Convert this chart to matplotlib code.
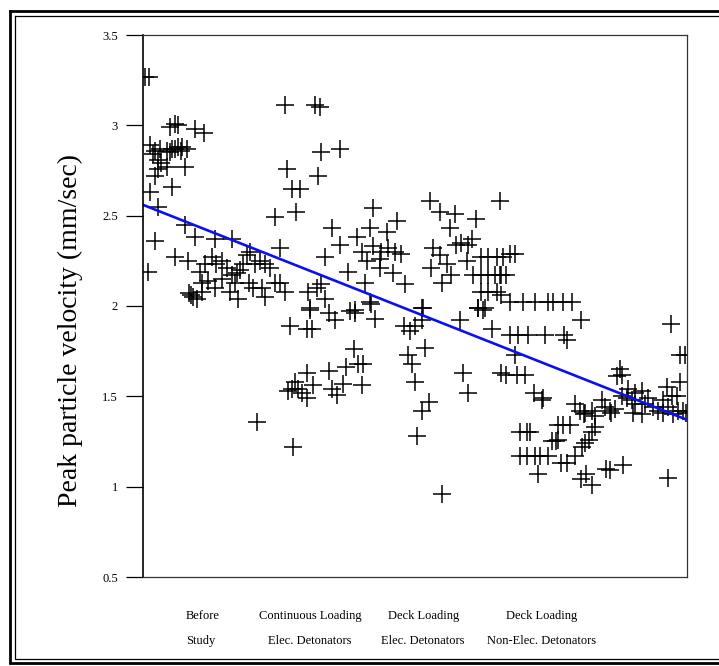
import matplotlib.pyplot as plt
from matplotlib.lines import Line2D
from matplotlib.transforms import blended_transform_factory

plt.rcParams['font.family'] = ['Liberation Serif', 'DejaVu Serif']

# значения (порядковый номер взрыва, PPV мм/с)
blast_x = [
    0.4, 1.1, 5.0, 5.8, 6.4, 9.6, 11.3, 1.3, 2.2, 3.1, 4.4, 5.3, 5.9, 6.5, 7.1, 8.0,
    1.9, 2.8, 3.4, 4.4, 2.8, 7.7, 2.2, 5.3, 1.3, 2.8, 7.7, 2.2, 9.6, 13.2, 16.3, 5.9,
    8.3, 1.0, 25.2, 10.5, 11.4, 12.6, 13.5, 14.5, 15.4, 16.3, 17.2, 17.8, 18.4, 19.1,
    19.7, 20.6, 21.5, 22.4, 23.3, 24.3, 25.2, 26.1, 21.8, 22.4, 17.5, 16.0, 13.2, 10.8,
    8.9, 9.9, 10.8, 12.0, 14.5, 16.9, 19.4, 20.3, 8.5, 9.2, 4.9, 6.9,
    26.1, 31.6, 32.5, 32.8, 32.1, 26.4, 27.3, 28.9, 28.1, 24.3, 30.4, 31.9, 30.7,
    20.9, 27.6, 27.0, 30.1, 31.0, 30.7, 30.1, 27.9, 26.7, 28.5, 29.2, 30.1, 31.3, 27.3,
    36.2, 34.7, 39.3, 36.2, 33.5, 37.7, 32.8, 33.5, 39.0, 34.1, 35.3, 38.1, 39.0, 42.0,
    42.6, 38.7, 37.4, 39.6, 40.5, 34.1, 36.8, 40.2, 34.7, 35.6,
    52.8, 54.6, 57.4, 65.6, 42.3, 41.7, 46.6, 44.8, 56.4, 61.3, 40.2, 42.3, 43.8, 45.1,
    46.3, 47.5, 43.6, 41.1, 43.6, 46.0, 40.8, 48.2, 41.7, 51.2, 53.4, 54.6, 55.8, 53.0,
    56.7, 54.9, 57.6, 58.5, 59.8, 60.4, 59.5, 62.2, 63.5, 65.0, 66.2, 60.7, 62.2, 63.5,
    64.7, 65.9, 62.2, 63.5, 65.0, 61.6, 62.9, 47.9, 49.1, 50.0, 51.2, 51.5, 58.3, 61.6,
    62.5, 64.1, 51.8, 48.8, 49.4, 50.0, 52.5, 51.2, 50.3, 54.9, 58.9, 59.8, 65.9,
    67.5, 68.4, 65.6, 66.8, 65.9, 67.5, 69.9, 72.1, 74.5, 75.4, 77.2, 78.8, 80.6, 97.1,
    69.0, 70.8, 73.9, 77.3, 77.9, 67.5, 68.4, 98.7, 99.6, 66.8, 68.7, 70.2, 71.8, 73.3,
    73.6, 87.7, 87.1, 88.0, 98.7, 96.3, 79.4, 80.3, 81.3, 82.5, 83.1, 84.3, 84.9, 85.8,
    86.8, 88.0, 88.9, 89.8, 90.4, 91.7, 92.3, 92.9, 93.8, 94.7, 95.6, 96.5, 97.5, 98.4,
    99.3, 97.2, 98.1, 89.2, 90.4, 91.7, 81.0, 86.0, 90.0, 95.5, 99.8,
    83.1, 82.5, 81.9, 81.3, 80.7, 76.3, 77.2, 78.5, 70.5, 75.1, 76.0, 76.3, 69.3, 70.5,
    72.1, 73.0, 74.5, 76.9, 77.9, 79.4, 72.7, 80.6, 81.5, 82.5, 85.2, 85.8, 88.3, 96.5,
    69.3, 71.1,
]
ppv = [
    3.27, 3.27, 2.99, 3.01, 3.00, 2.98, 2.96, 2.89, 2.86, 2.87, 2.86, 2.87, 2.87, 2.88, 2.88, 2.87,
    2.84, 2.81, 2.79, 2.77, 2.76, 2.77, 2.72, 2.66, 2.63, 2.55, 2.45, 2.36, 2.38, 2.37, 2.37, 2.27,
    2.25, 2.19, 2.32, 2.19, 2.23, 2.27, 2.23, 2.25, 2.21, 2.17, 2.18, 2.20, 2.23, 2.28,
    2.30, 2.23, 2.25, 2.23, 2.21, 2.13, 2.13, 2.08, 2.10, 2.05, 2.04, 2.08, 2.10, 2.08,
    2.06, 2.04, 2.13, 2.14, 2.15, 2.13, 2.13, 2.10, 2.07, 2.05, 2.85, 2.86,
    3.11, 3.11, 3.10, 2.85, 2.72, 2.76, 2.65, 2.65, 2.52, 2.49, 2.08, 2.10, 1.99,
    1.36, 1.22, 1.89, 1.87, 1.87, 1.98, 1.63, 1.58, 1.53, 1.54, 1.52, 1.49, 1.56, 1.54,
    2.87, 2.43, 2.38, 2.34, 2.27, 2.19, 2.12, 2.04, 1.98, 1.96, 1.92, 1.97, 1.96, 2.01,
    1.93, 1.76, 1.66, 1.68, 1.68, 1.64, 1.57, 1.56, 1.54, 1.51,
    2.58, 2.52, 2.51, 2.58, 2.54, 2.43, 2.47, 2.41, 2.43, 2.48, 2.30, 2.33, 2.30, 2.32,
    2.30, 2.29, 2.26, 2.25, 2.21, 2.18, 2.13, 2.12, 2.02, 1.99, 2.32, 2.28, 2.23, 2.21,
    2.17, 2.13, 2.34, 2.35, 2.34, 2.37, 2.25, 2.27, 2.27, 2.27, 2.27, 2.17, 2.17, 2.17,
    2.17, 2.17, 2.08, 2.08, 2.08, 1.99, 1.99, 1.89, 1.86, 1.89, 1.92, 1.99, 1.92, 1.99,
    1.98, 1.87, 1.77, 1.73, 1.68, 1.58, 1.47, 1.42, 1.28, 0.96, 1.63, 1.52, 1.63,
    2.29, 2.29, 2.17, 2.17, 2.06, 2.02, 2.02, 2.02, 2.02, 2.02, 2.02, 2.02, 1.92, 1.90,
    1.84, 1.84, 1.84, 1.84, 1.81, 1.84, 1.73, 1.73, 1.73, 1.62, 1.62, 1.62, 1.52, 1.48,
    1.49, 1.65, 1.61, 1.62, 1.58, 1.55, 1.46, 1.42, 1.41, 1.42, 1.39, 1.48, 1.44, 1.42,
    1.43, 1.50, 1.49, 1.48, 1.46, 1.40, 1.46, 1.49, 1.44, 1.42, 1.48, 1.44, 1.40, 1.42,
    1.42, 1.50, 1.50, 1.54, 1.52, 1.53, 1.40, 1.41, 1.41, 1.41, 1.41,
    1.33, 1.30, 1.26, 1.24, 1.22, 1.34, 1.34, 1.34, 1.30, 1.25, 1.25, 1.26, 1.17, 1.17,
    1.17, 1.17, 1.17, 1.13, 1.13, 1.17, 1.07, 1.04, 1.07, 1.01, 1.10, 1.09, 1.12, 1.05,
    1.30, 1.30,
]

# линия тренда (концы)
trend_x = [0, 100]
trend_y = [2.56, 1.37]

group_labels = ['Before\nStudy', 'Continuous Loading\nElec. Detonators',
                'Deck Loading\nElec. Detonators', 'Deck Loading\nNon-Elec. Detonators']
group_pos = [11.0, 30.7, 51.5, 73.2]

fig = plt.figure(figsize=(7.19, 6.66), dpi=100)
ax = fig.add_axes([143 / 719, 89 / 666, 544 / 719, 542 / 666])

ax.plot(blast_x, ppv, linestyle='none', marker='+', markersize=13,
        markeredgewidth=1.1, color='black')
ax.plot(trend_x, trend_y, color='#0a10f0', linewidth=1.9)

ax.set_xlim(0, 100)
ax.set_ylim(0.5, 3.5)
ax.set_yticks([0.5, 1, 1.5, 2, 2.5, 3, 3.5])
ax.set_yticklabels(['0.5', '1', '1.5', '2', '2.5', '3', '3.5'], fontsize=9)
ax.tick_params(axis='y', direction='out', length=12, width=0.9, pad=6)
ax.set_xticks([])

# подписи групп под осью
trans = blended_transform_factory(ax.transData, ax.transAxes)
for i, (pos, lab) in enumerate(zip(group_pos, group_labels)):
    ax.text(pos, -0.061, lab, transform=trans, fontsize=9, ha='center', va='top',
            linespacing=2.4, multialignment='left' if i == 0 else 'center')

ax.spines['left'].set_linewidth(1.2)
for s in ['top', 'right', 'bottom']:
    ax.spines[s].set_linewidth(0.9)
    ax.spines[s].set_color('#333333')

fig.text(70 / 719, 1 - 330 / 666, 'Peak particle velocity (mm/sec)', rotation=90,
         fontsize=20, ha='center', va='center')

# рамка вокруг рисунка
def frame(x0, y0, x1, y1, lw):
    xs = [x0 / 719, x1 / 719, x1 / 719, x0 / 719, x0 / 719]
    ys = [1 - y0 / 666, 1 - y0 / 666, 1 - y1 / 666, 1 - y1 / 666, 1 - y0 / 666]
    fig.add_artist(Line2D(xs, ys, color='black', linewidth=lw,
                          transform=fig.transFigure, solid_joinstyle='miter'))

frame(10, 11, 740, 663, 2.0)
frame(15, 15.5, 740, 659, 0.9)

fig.savefig('out.png', dpi=100)
